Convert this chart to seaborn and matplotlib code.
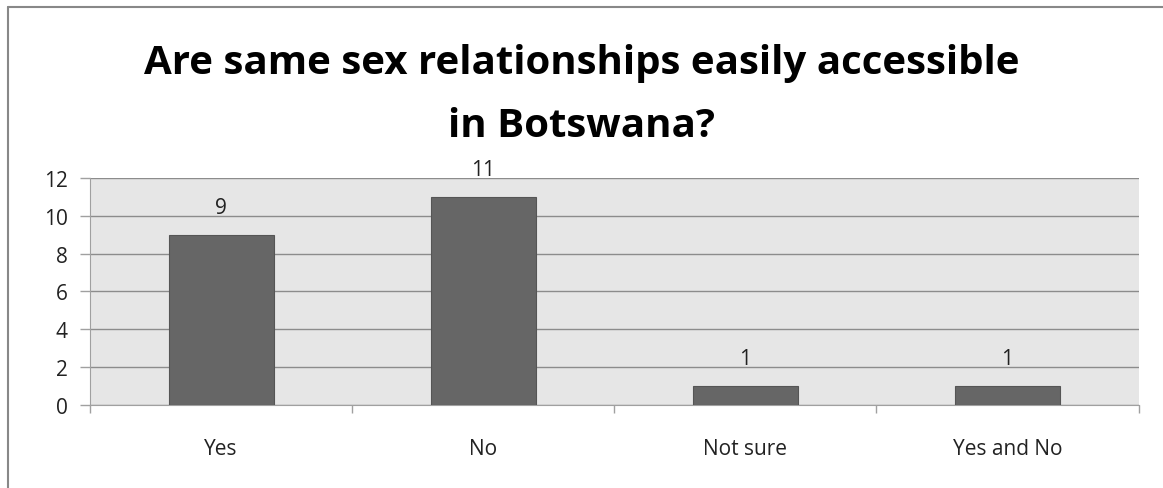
import matplotlib
matplotlib.use("Agg")
import matplotlib.pyplot as plt
from matplotlib.lines import Line2D
from matplotlib.ticker import FixedLocator
import seaborn as sns
import pandas as pd

categories = ["Yes", "No", "Not sure", "Yes and No"]
counts = [9, 11, 1, 1]
y_ticks = [0, 2, 4, 6, 8, 10, 12]

sns.set_style("white")
plt.rcParams["font.family"] = ["Open Sans", "DejaVu Sans"]

df = pd.DataFrame({"answer": categories, "count": counts})

fig = plt.figure(figsize=(11.63, 4.89), dpi=100)
ax = fig.add_axes([0.0774, 0.1697, 0.9016, 0.4643])
ax.set_facecolor("#E6E6E6")

sns.barplot(data=df, x="answer", y="count", color="#666666", width=0.4,
            edgecolor="#555555", linewidth=0.8, saturation=1, ax=ax, zorder=3)

ax.set_xlim(-0.5, len(categories) - 0.5)
ax.set_ylim(0, 12)
ax.set_yticks(y_ticks)
ax.yaxis.grid(True, color="#8C8C8C", linewidth=1.0, zorder=1)
ax.set_axisbelow(True)

for s in ["top", "right"]:
    ax.spines[s].set_visible(False)
ax.spines["left"].set_color("#A0A0A0")
ax.spines["bottom"].set_color("#A0A0A0")

ax.tick_params(axis="y", length=7, width=1, color="#A0A0A0", labelsize=15,
               labelcolor="#222222", pad=9, left=True)
ax.tick_params(axis="x", which="major", length=0, labelsize=15,
               labelcolor="#222222", pad=24)
ax.xaxis.set_minor_locator(FixedLocator([i - 0.5 for i in range(len(categories) + 1)]))
ax.tick_params(axis="x", which="minor", length=6, width=1, color="#A0A0A0", bottom=True)
ax.set_xlabel("")
ax.set_ylabel("")

for i, v in enumerate(counts):
    ax.annotate(str(v), (i, v), xytext=(0, 12), textcoords="offset points",
                ha="center", va="bottom", fontsize=15, color="#222222")

fig.text(0.5, 0.805, "Are same sex relationships easily accessible\nin Botswana?",
         ha="center", va="center", fontsize=29, fontweight="bold",
         linespacing=1.8, color="#000000")

# Outer frame edges along the top and left
fig.add_artist(Line2D([0.0069, 1.0], [0.9836, 0.9836], transform=fig.transFigure,
                      color="#888888", linewidth=1.5))
fig.add_artist(Line2D([0.0069, 0.0069], [0.0, 0.9836], transform=fig.transFigure,
                      color="#888888", linewidth=1.5))

fig.savefig("out.png", dpi=100)
